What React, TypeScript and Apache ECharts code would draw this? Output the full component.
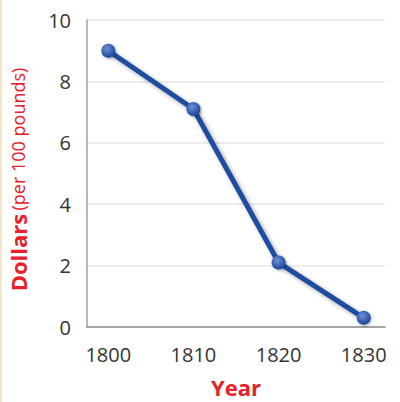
import React, { useEffect, useRef } from "react";
import * as echarts from "echarts";

const years = [1800, 1810, 1820, 1830];
const dollars = [9.0, 7.1, 2.1, 0.3];
const yTicks = [0, 2, 4, 6, 8, 10];

export default function App() {
  const ref = useRef<HTMLDivElement>(null);
  useEffect(() => {
    document.body.style.margin = "0";
    const chart = echarts.init(ref.current!, null, { renderer: "svg" });
    const font = "'Open Sans', 'Noto Sans', sans-serif";
    chart.setOption({
      animation: false,
      backgroundColor: "#ffffff",
      graphic: [
        { type: "rect", left: 0, top: 0, shape: { width: 2, height: 402 }, style: { fill: "#f3e4c4" } },
      ],
      grid: { left: 87, right: 15, top: 20, bottom: 75, containLabel: false, outerBoundsMode: "none" },
      xAxis: {
        type: "value",
        min: 1797.5,
        max: 1832.5,
        splitLine: { show: false },
        axisTick: { show: false },
        axisLine: { show: true, lineStyle: { color: "#8a8a8a", width: 1.5 } },
        axisLabel: {
          customValues: years,
          formatter: (v: number) => String(v),
          color: "#333",
          fontSize: 20,
          fontFamily: font,
          margin: 17,
        },
        name: "Year",
        nameLocation: "middle",
        nameGap: 48,
        nameTextStyle: { color: "#e8202a", fontSize: 22, lineHeight: 24, fontWeight: "bold", fontFamily: font },
      },
      yAxis: {
        type: "value",
        min: 0,
        max: 10,
        interval: 2,
        axisLine: { show: true, lineStyle: { color: "#a0a0a0", width: 1.5 } },
        axisTick: { show: false },
        splitLine: { show: true, lineStyle: { color: "#e6e6e6", width: 1.5 } },
        axisLabel: {
          customValues: yTicks,
          color: "#333",
          fontSize: 20,
          fontFamily: font,
          margin: 16,
        },
        name: "{b|Dollars} {n|(per 100 pounds)}",
        nameLocation: "middle",
        nameGap: 58,
        nameTextStyle: {
          padding: [0, 12, 0, 0],
          rich: {
            b: { color: "#e8202a", fontSize: 22, fontWeight: "bold", fontFamily: font },
            n: { color: "#e8202a", fontSize: 18, fontFamily: font },
          },
        },
      },
      series: [
        {
          type: "line",
          data: years.map((y, i) => [y, dollars[i]]),
          symbol: "circle",
          symbolSize: 14,
          lineStyle: {
            color: "#1f4d9e",
            width: 5,
            shadowColor: "rgba(0,0,0,0.35)",
            shadowBlur: 4,
            shadowOffsetX: 2,
            shadowOffsetY: 2,
          },
          itemStyle: {
            color: new echarts.graphic.RadialGradient(0.4, 0.35, 0.6, [
              { offset: 0, color: "#6f8fd6" },
              { offset: 1, color: "#1f4d9e" },
            ]),
            shadowColor: "rgba(0,0,0,0.35)",
            shadowBlur: 3,
            shadowOffsetX: 1,
            shadowOffsetY: 1,
          },
        },
      ],
    });
    return () => chart.dispose();
  }, []);
  return <div ref={ref} style={{ width: 400, height: 402, position: "absolute", left: 0, top: 0 }} />;
}
